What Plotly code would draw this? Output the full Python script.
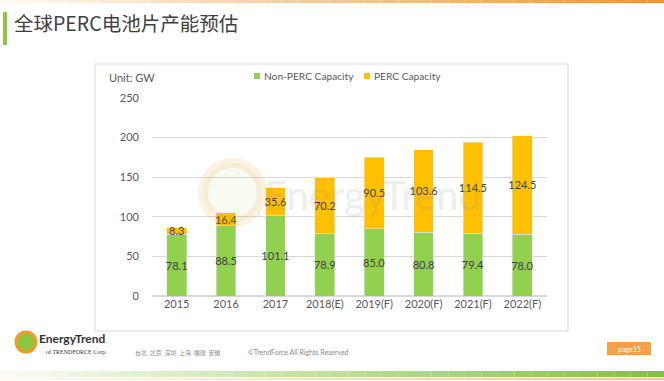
import plotly.graph_objects as go

years = ["2015", "2016", "2017", "2018(E)", "2019(F)", "2020(F)", "2021(F)", "2022(F)"]
non_perc = [78.1, 88.5, 101.1, 78.9, 85.0, 80.8, 79.4, 78.0]
perc = [8.3, 16.4, 35.6, 70.2, 90.5, 103.6, 114.5, 124.5]
series_names = ["Non-PERC Capacity", "PERC Capacity"]

W, H = 664, 381
L, R, T, B = 152, 547, 98, 296

def px(x):
    return (x - L) / (R - L)

def py(y):
    return (B - y) / (B - T)

FONT = "Lato, Open Sans, sans-serif"
GREEN = "#92D050"
YELLOW = "#FFC000"

fig = go.Figure()
fig.add_trace(go.Bar(
    name=series_names[0], x=years, y=non_perc, marker_color=GREEN,
    text=[f"{v:.1f}" for v in non_perc], textposition="inside",
    insidetextanchor="middle", textangle=0,
    textfont=dict(color="#404040", size=11, family=FONT),
))
fig.add_trace(go.Bar(
    name=series_names[1], x=years, y=perc, marker_color=YELLOW,
    text=[f"{v:.1f}" for v in perc], textposition="inside",
    insidetextanchor="middle", textangle=0,
    textfont=dict(color="#404040", size=11, family=FONT),
))

shapes = []
# chart box
shapes.append(dict(type="rect", xref="paper", yref="paper", x0=px(95), x1=px(568), y0=py(331), y1=py(64),
                   line=dict(color="#D9D9D9", width=1), fillcolor="rgba(0,0,0,0)", layer="below"))
# title accent bar
shapes.append(dict(type="rect", xref="paper", yref="paper", x0=px(3), x1=px(7), y0=py(45), y1=py(12),
                   line=dict(width=0), fillcolor="#8DC63F"))

def lerp(c1, c2, t):
    return "rgb(%d,%d,%d)" % tuple(int(a + (b - a) * t) for a, b in zip(c1, c2))

N = 40
for i in range(N):
    x0 = i * W / N
    x1 = (i + 1) * W / N
    t = i / (N - 1)
    shapes.append(dict(type="rect", xref="paper", yref="paper", x0=px(x0), x1=px(x1), y0=py(3), y1=py(0),
                       line=dict(width=0), fillcolor=lerp((255, 250, 240), (236, 150, 60), t)))
    shapes.append(dict(type="rect", xref="paper", yref="paper", x0=px(x0), x1=px(x1), y0=py(377), y1=py(371),
                       line=dict(width=0), fillcolor=lerp((250, 252, 245), (130, 195, 65), t)))
    shapes.append(dict(type="rect", xref="paper", yref="paper", x0=px(x0), x1=px(x1), y0=py(380), y1=py(378),
                       line=dict(width=0), fillcolor=lerp((255, 250, 240), (245, 200, 150), t)))
# page box
shapes.append(dict(type="rect", xref="paper", yref="paper", x0=px(607), x1=px(651), y0=py(355), y1=py(342),
                   line=dict(width=0), fillcolor="#F5A04A"))
# logo circle
shapes.append(dict(type="circle", xref="paper", yref="paper", x0=px(16), x1=px(36), y0=py(352), y1=py(332),
                   line=dict(color="#F39A2B", width=3), fillcolor="#8DC63F"))
# watermark circle
shapes.append(dict(type="circle", xref="paper", yref="paper", x0=px(203), x1=px(262), y0=py(222), y1=py(163),
                   line=dict(color="rgba(243,154,43,0.14)", width=10), fillcolor="rgba(141,198,63,0.07)"))
# legend squares
shapes.append(dict(type="rect", xref="paper", yref="paper", x0=px(254), x1=px(260), y0=py(79), y1=py(73),
                   line=dict(width=0), fillcolor=GREEN))
shapes.append(dict(type="rect", xref="paper", yref="paper", x0=px(364), x1=px(370), y0=py(79), y1=py(73),
                   line=dict(width=0), fillcolor=YELLOW))

annotations = [
    dict(text="全球PERC电池片产能预估", x=px(12), y=py(23), xref="paper", yref="paper", xanchor="left",
         yanchor="middle", showarrow=False,
         font=dict(family="Noto Sans CJK SC", size=19.5, color="#404040")),
    dict(text="Unit: GW", x=px(107), y=py(77), xref="paper", yref="paper", xanchor="left",
         yanchor="middle", showarrow=False, font=dict(family=FONT, size=11, color="#595959")),
    dict(text=series_names[0], x=px(262), y=py(76), xref="paper", yref="paper", xanchor="left",
         yanchor="middle", showarrow=False, font=dict(family=FONT, size=10.2, color="#595959")),
    dict(text=series_names[1], x=px(372), y=py(76), xref="paper", yref="paper", xanchor="left",
         yanchor="middle", showarrow=False, font=dict(family=FONT, size=10.2, color="#595959")),
    dict(text="EnergyTrend", x=px(262), y=py(195), xref="paper", yref="paper", xanchor="left",
         yanchor="middle", showarrow=False, font=dict(family=FONT, size=40, color="rgba(150,150,150,0.18)")),
    dict(text="<b>EnergyTrend</b>", x=px(37), y=py(338), xref="paper", yref="paper", xanchor="left",
         yanchor="middle", showarrow=False, font=dict(family=FONT, size=12, color="#333333")),
    dict(text="of TRENDFORCE Corp.", x=px(44), y=py(352), xref="paper", yref="paper", xanchor="left",
         yanchor="middle", showarrow=False, font=dict(family="Liberation Serif", size=6, color="#333333")),
    dict(text="台北  北京  深圳  上海  福建  安徽", x=px(133), y=py(352), xref="paper", yref="paper",
         xanchor="left", yanchor="middle", showarrow=False,
         font=dict(family="Noto Sans CJK SC", size=6, color="#8a8a8a")),
    dict(text="©TrendForce All Rights Reserved", x=px(246), y=py(352), xref="paper", yref="paper",
         xanchor="left", yanchor="middle", showarrow=False, font=dict(family=FONT, size=7, color="#8a8a8a")),
    dict(text="page15", x=px(629), y=py(349), xref="paper", yref="paper", xanchor="center",
         yanchor="middle", showarrow=False, font=dict(family=FONT, size=7, color="white")),
]

fig.update_layout(
    width=W, height=H,
    margin=dict(l=L, r=W - R, t=T, b=H - B, pad=0, autoexpand=False),
    barmode="stack", bargap=0.6, showlegend=False,
    plot_bgcolor="white", paper_bgcolor="white",
    font=dict(family=FONT, size=11, color="#595959"),
    uniformtext=dict(minsize=11, mode="show"),
    xaxis=dict(showline=False, ticks="", tickfont=dict(size=11, color="#595959")),
    yaxis=dict(range=[0, 250], dtick=50, gridcolor="#D9D9D9", gridwidth=1, zeroline=True,
               zerolinecolor="#D9D9D9", ticks="", ticklabelstandoff=12,
               tickfont=dict(size=11, color="#595959")),
    shapes=shapes, annotations=annotations,
)

fig.write_html(
    "out.html",
    config={"displayModeBar": False},
    post_script="document.body.style.margin='0';document.body.style.padding='0';document.body.style.overflow='hidden';",
)
